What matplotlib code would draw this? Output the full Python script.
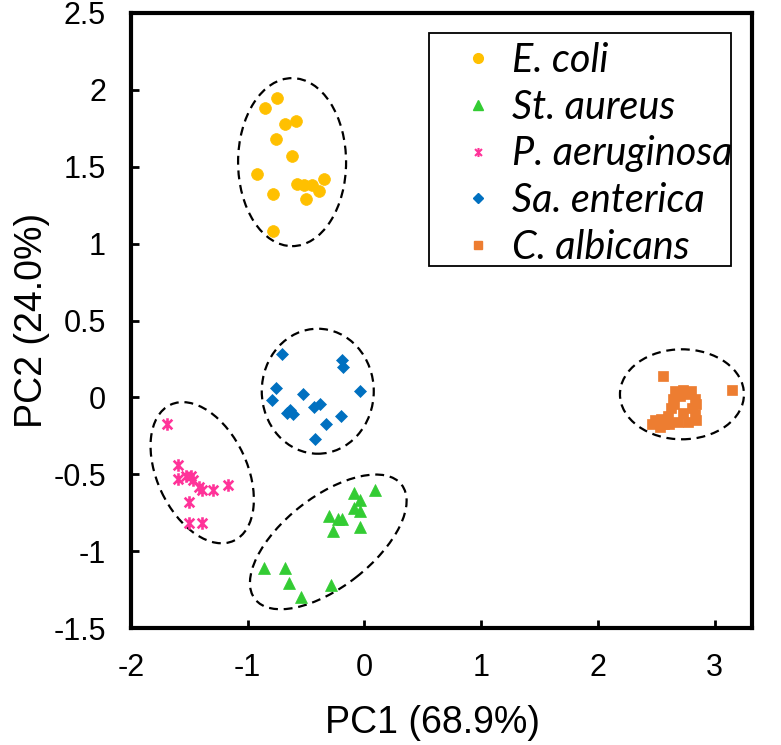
import matplotlib

matplotlib.use("Agg")
import matplotlib.pyplot as plt
from matplotlib.lines import Line2D
from matplotlib.patches import Ellipse, Rectangle
from matplotlib.path import Path
from matplotlib.transforms import ScaledTranslation

# --- data ----------------------------------------------------------------
SPECIES = ["E. coli", "St. aureus", "P. aeruginosa", "Sa. enterica", "C. albicans"]

ecoli_x = [-0.75, -0.85, -0.68, -0.59, -0.76, -0.62, -0.92, -0.58, -0.52, -0.45, -0.35, -0.39, -0.50, -0.78, -0.78]
ecoli_y = [1.95, 1.88, 1.78, 1.80, 1.68, 1.57, 1.45, 1.39, 1.38, 1.38, 1.42, 1.34, 1.29, 1.32, 1.08]

saureus_x = [-0.09, 0.09, -0.04, -0.09, -0.04, -0.30, -0.23, -0.19, -0.04, -0.27, -0.86, -0.68, -0.65, -0.29, -0.54]
saureus_y = [-0.62, -0.60, -0.67, -0.72, -0.74, -0.77, -0.79, -0.79, -0.84, -0.87, -1.11, -1.11, -1.21, -1.22, -1.30]

paer_x = [-1.69, -1.60, -1.60, -1.53, -1.49, -1.47, -1.42, -1.39, -1.30, -1.17, -1.50, -1.50, -1.39]
paer_y = [-0.17, -0.44, -0.53, -0.51, -0.51, -0.54, -0.58, -0.60, -0.60, -0.57, -0.68, -0.82, -0.82]

sent_x = [-0.71, -0.19, -0.18, -0.76, -0.04, -0.53, -0.79, -0.64, -0.66, -0.61, -0.43, -0.38, -0.20, -0.33, -0.42]
sent_y = [0.28, 0.24, 0.20, 0.06, 0.04, 0.02, -0.02, -0.08, -0.10, -0.11, -0.06, -0.04, -0.12, -0.17, -0.27]

calb_x = [2.56, 3.15, 2.66, 2.73, 2.80, 2.64, 2.83, 2.63, 2.81, 2.73, 2.83, 2.60, 2.54, 2.49, 2.46, 2.53, 2.61, 2.69, 2.77, 2.84,
          2.70, 2.78, 2.65, 2.84, 2.57]
calb_y = [0.14, 0.05, 0.04, 0.05, 0.04, -0.01, -0.01, -0.07, -0.07, -0.10, -0.11, -0.12, -0.14, -0.15, -0.17, -0.19, -0.17, -0.16, -0.16, -0.15,
          0.01, 0.02, -0.04, -0.04, -0.17]

# cluster outlines: centre (data), width/height (inches), angle (deg)
ell_cx = [-0.62, -0.31, -1.39, -0.40, 2.72]
ell_cy = [1.53, -0.94, -0.49, 0.04, 0.02]
ell_w = [1.08, 1.86, 1.50, 1.12, 1.24]
ell_h = [1.68, 0.90, 0.90, 1.25, 0.90]
ell_ang = [0, 38, -65, 0, 0]

X_TICKS = [-2, -1, 0, 1, 2, 3]
Y_TICKS = [-1.5, -1, -0.5, 0, 0.5, 1, 1.5, 2, 2.5]

COLORS = ["#FFC000", "#33CC33", "#FF3399", "#0070C0", "#ED7D31"]

# Excel-style "star": an x with a vertical bar through it
STAR = Path(
    [(-1, -1), (1, 1), (-1, 1), (1, -1), (0, -1.3), (0, 1.3)],
    [Path.MOVETO, Path.LINETO, Path.MOVETO, Path.LINETO, Path.MOVETO, Path.LINETO],
)

MARKERS = ["o", "^", STAR, "D", "s"]
SIZES = [8.5, 8.5, 9, 6, 7.5]
LEGEND_SIZES = [7, 6.5, 6.5, 5, 6]

plt.rcParams["font.family"] = ["Liberation Sans", "DejaVu Sans"]

fig = plt.figure(figsize=(7.81, 7.45), dpi=100)
ax = fig.add_axes([131 / 781, 1 - 628 / 745, (752 - 131) / 781, (628 - 13) / 745])

series = [
    (ecoli_x, ecoli_y),
    (saureus_x, saureus_y),
    (paer_x, paer_y),
    (sent_x, sent_y),
    (calb_x, calb_y),
]
for (xs, ys), c, m, s in zip(series, COLORS, MARKERS, SIZES):
    if m is STAR:
        ax.plot(xs, ys, linestyle="none", marker=m, ms=s, mfc="none", mec=c, mew=1.9, zorder=3)
    else:
        ax.plot(xs, ys, linestyle="none", marker=m, ms=s, mfc=c, mec=c, mew=0.5, zorder=3)

for cx, cy, w, h, a in zip(ell_cx, ell_cy, ell_w, ell_h, ell_ang):
    tr = fig.dpi_scale_trans + ScaledTranslation(cx, cy, ax.transData)
    ax.add_patch(Ellipse((0, 0), w, h, angle=a, transform=tr, fill=False,
                         edgecolor="black", lw=1.6, linestyle=(0, (4, 2.6)), zorder=2))

ax.set_xlim(-2, 3.32)
ax.set_ylim(-1.5, 2.5)
ax.set_xticks(X_TICKS)
ax.set_xticklabels([f"{v:g}" for v in X_TICKS])
ax.set_yticks(Y_TICKS)
ax.set_yticklabels([f"{v:g}" for v in Y_TICKS])
ax.tick_params(direction="in", length=6, width=2, labelsize=22, pad=18)
ax.tick_params(axis="y", pad=18)
for sp in ax.spines.values():
    sp.set_linewidth(3)

ax.set_xlabel("PC1 (68.9%)", fontsize=27)
ax.set_ylabel("PC2 (24.0%)", fontsize=27)
ax.xaxis.set_label_coords(0.485, -0.125)
ax.yaxis.set_label_coords(-0.130, 0.5)

# legend: frame drawn separately so the padding can match the reference
handles = []
for c, m, s in zip(COLORS, MARKERS, LEGEND_SIZES):
    if m is STAR:
        handles.append(Line2D([], [], linestyle="none", marker=m, ms=s, mfc="none", mec=c, mew=1.5))
    else:
        handles.append(Line2D([], [], linestyle="none", marker=m, ms=s, mfc=c, mec=c))
leg = ax.legend(handles, SPECIES, loc="upper left", bbox_to_anchor=(458 / 781, 1 - 42 / 745),
                bbox_transform=fig.transFigure, frameon=False, borderpad=0, borderaxespad=0,
                handlelength=1.0, handletextpad=0.36, labelspacing=0.245,
                prop={"family": "Lato", "style": "italic", "size": 28.5})
fig.add_artist(Rectangle((429 / 781, 1 - 266 / 745), (731 - 429) / 781, (266 - 33) / 745,
                         transform=fig.transFigure, fill=False, edgecolor="black", lw=1.3))

fig.savefig("out.png", dpi=100)
